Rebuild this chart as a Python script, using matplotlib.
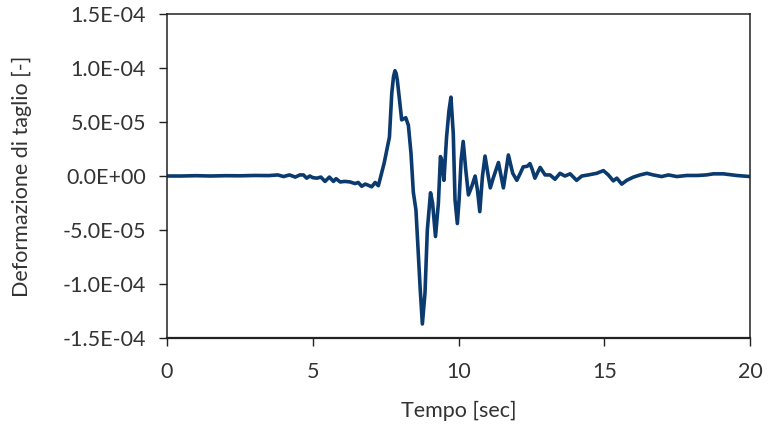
import matplotlib
matplotlib.use("Agg")
import matplotlib.pyplot as plt
from matplotlib.ticker import FuncFormatter, MultipleLocator

# Shear strain time history (time in seconds, strain in units of 1e-6)
tempo = [0.0, 0.5, 1.0, 1.5, 2.0, 2.5, 3.0, 3.5, 3.8, 4.0, 4.2, 4.4, 4.56, 4.68,
         4.79, 4.9, 5.0, 5.14, 5.28, 5.42, 5.57, 5.71, 5.80, 5.94, 6.1, 6.28,
         6.45, 6.56, 6.68, 6.80, 6.9, 7.02, 7.14, 7.25, 7.36, 7.45, 7.54, 7.63,
         7.71, 7.77, 7.82, 7.86, 7.90, 7.99, 8.05, 8.12, 8.19, 8.28, 8.37, 8.45,
         8.54, 8.62, 8.68, 8.76, 8.85, 8.93, 9.04, 9.11, 9.21, 9.31, 9.38, 9.42,
         9.50, 9.59, 9.67, 9.74, 9.82, 9.88, 9.96, 10.02, 10.09, 10.16, 10.25,
         10.34, 10.45, 10.57, 10.65, 10.73, 10.82, 10.91, 11.02, 11.09, 11.19,
         11.37, 11.46, 11.54, 11.63, 11.71, 11.86, 12.00, 12.11, 12.22, 12.36,
         12.45, 12.53, 12.62, 12.80, 12.97, 13.14, 13.31, 13.48, 13.65, 13.83,
         14.05, 14.23, 14.45, 14.74, 14.97, 15.14, 15.31, 15.43, 15.60, 15.77,
         16.00, 16.23, 16.46, 16.68, 16.97, 17.2, 17.49, 17.83, 18.2, 18.5,
         18.74, 19.09, 19.54, 20.0]
deformazione_e6 = [0, 0, 0.3, 0, 0.3, 0.2, 0.5, 0.4, 1, -0.5, 1, -1, 1, 1,
                   -2, 0, -1.5, -2, -1, -5, -1, -5, -2.5, -5.5, -5, -5.5,
                   -7, -6, -9.5, -7.5, -8.5, -10, -6, -9, 2.5, 12, 24, 36,
                   76.5, 92, 97.5, 95, 89, 67, 52, 53, 54, 47, 21, -15,
                   -31.5, -71.5, -102, -137, -108.5, -50, -15.5, -25, -56, -25, 18, 15,
                   -4, 36, 60, 73, 39.5, -22, -44, -22, 15, 32, 5.5,
                   -17.5, -10, 0, -13, -33, -0.5, 18.5, 0, -11, -2,
                   12.5, 0, -11, 5, 19.5, 2.5, -4, 2, 8.5, 9,
                   11.5, 6, -2, 8, 1, 1, -3, 2.5, 0, 2,
                   -4, 0, 1, 2.5, 5, 1, -4.5, -2, -7.5, -4,
                   -1, 1, 2.5, 1, -0.5, 1, -0.5, 0.5, 0.5, 1,
                   2, 2, 0.5, -0.5]

deformazione = [v * 1e-6 for v in deformazione_e6]

plt.rcParams["font.family"] = ["Lato", "DejaVu Sans"]

fig = plt.figure(figsize=(7.71, 4.34), dpi=100)
ax = fig.add_axes([0.2166, 0.2212, 0.7562, 0.7465])

ax.plot(tempo, deformazione, color="#0b3a6e", linewidth=2.6, solid_joinstyle="round")

ax.set_xlim(0, 20)
ax.set_ylim(-1.5e-4, 1.5e-4)
ax.xaxis.set_major_locator(MultipleLocator(5))
ax.yaxis.set_major_locator(MultipleLocator(5e-5))
ax.yaxis.set_major_formatter(FuncFormatter(lambda v, p: f"{0.0 if abs(v) < 1e-12 else v:.1E}"))

for s in ax.spines.values():
    s.set_color("#222222")
    s.set_linewidth(1.1)
ax.spines["bottom"].set_linewidth(1.6)

ax.tick_params(axis="both", direction="out", length=6, width=1.0, color="#222222",
               labelsize=15.5, labelcolor="#333333")
ax.tick_params(axis="y", pad=9)
ax.tick_params(axis="x", pad=11)

ax.set_xlabel("Tempo [sec]", fontsize=15.5, color="#333333", labelpad=14)
ax.set_ylabel("Deformazione di taglio [-]", fontsize=15.5, color="#333333", labelpad=22)

fig.savefig("out.png", dpi=100)
